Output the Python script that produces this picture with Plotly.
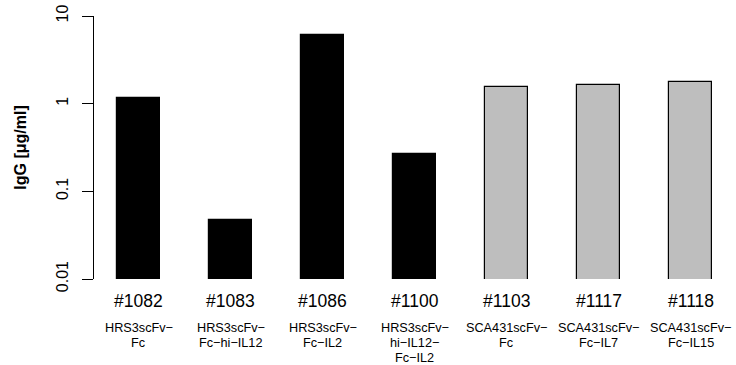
import plotly.graph_objects as go

ids = ["#1082", "#1083", "#1086", "#1100", "#1103", "#1117", "#1118"]
names = [
    ["HRS3scFv−", "Fc"],
    ["HRS3scFv−", "Fc−hi−IL12"],
    ["HRS3scFv−", "Fc−IL2"],
    ["HRS3scFv−", "hi−IL12−", "Fc−IL2"],
    ["SCA431scFv−", "Fc"],
    ["SCA431scFv−", "Fc−IL7"],
    ["SCA431scFv−", "Fc−IL15"],
]
igg = [1.16, 0.047, 6.1, 0.27, 1.56, 1.62, 1.75]
colors = ["black", "black", "black", "black", "#bebebe", "#bebebe", "#bebebe"]
ytickvals = [0.01, 0.1, 1, 10]
yticktext = ["0.01", "0.1", "1", "10"]

W, H = 736, 365
L, R, T, B = 94, 0, 16, 86
plot_w = W - L - R

fig = go.Figure()
fig.add_trace(go.Bar(
    x=list(range(len(ids))), y=igg,
    marker=dict(color=colors, line=dict(color="black", width=1.2)),
    width=0.465,
))

FONT = "Liberation Sans, Arial, Helvetica, sans-serif"
ann = []
for i, (lab, nm) in enumerate(zip(ids, names)):
    ann.append(dict(x=i, y=0, xref="x", yref="paper", text=lab, showarrow=False,
                    yanchor="middle", yshift=-22, font=dict(size=17.5, color="black", family=FONT)))
    for j, line in enumerate(nm):
        ann.append(dict(x=i, y=0, xref="x", yref="paper", text=line, showarrow=False,
                        yanchor="middle", yshift=-49 - 15 * j,
                        font=dict(size=12.7, color="black", family=FONT)))

x0 = -44.5 / 92
x1 = x0 + plot_w / 92
fig.update_layout(
    width=W, height=H,
    margin=dict(l=L, r=R, t=T, b=B, pad=0),
    plot_bgcolor="white", paper_bgcolor="white",
    showlegend=False,
    font=dict(family=FONT, color="black"),
    xaxis=dict(range=[x0, x1], showticklabels=False, showgrid=False, zeroline=False,
               showline=False, ticks=""),
    yaxis=dict(type="log", range=[-2, 1], tickvals=ytickvals, ticktext=yticktext,
               tickangle=-90, ticks="outside", ticklen=11, tickwidth=1, tickcolor="black",
               showline=True, linecolor="black", linewidth=1, showgrid=False, zeroline=False,
               tickfont=dict(size=16, family=FONT), ticklabelstandoff=8,
               title=dict(text="<b>IgG [μg/ml]</b>", font=dict(size=16, family=FONT), standoff=22)),
    annotations=ann,
    bargap=0,
)
fig.write_html("out.html", config={"displayModeBar": False},
               post_script="document.body.style.margin='0';document.body.style.overflow='hidden';")
